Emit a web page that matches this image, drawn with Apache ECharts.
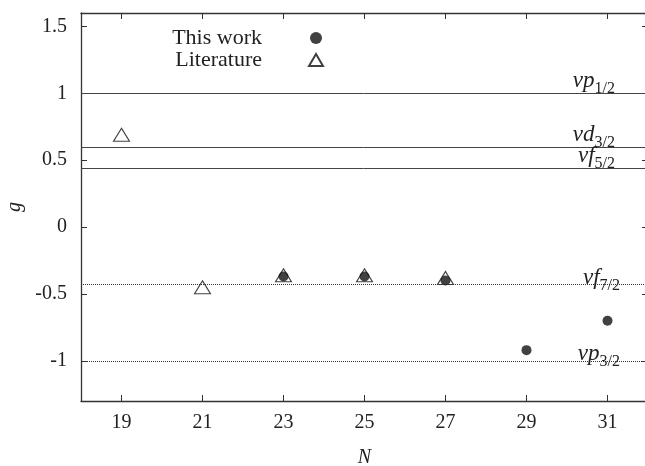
<!DOCTYPE html>
<html>
<head>
<meta charset="utf-8">
<script src="https://cdn.jsdelivr.net/npm/echarts@6/dist/echarts.min.js"></script>
<style>
  html, body { margin: 0; padding: 0; background: #fff; }
  #chart { width: 645px; height: 466px; }
</style>
</head>
<body>
<div id="chart"></div>
<script>
// measured g factors
const thisWorkN = [23, 25, 27, 29, 31]
const thisWorkG = [-0.37, -0.37, -0.40, -0.92, -0.70]
const litN = [19, 21, 23, 25, 27]
const litG = [0.69, -0.45, -0.36, -0.36, -0.38]

// single-particle reference levels
const levelOrb = ['p', 'd', 'f', 'f', 'p']
const levelJ = ['1/2', '3/2', '5/2', '7/2', '3/2']
const levelG = [1.0, 0.60, 0.44, -0.43, -1.0]

const xTicks = [19, 21, 23, 25, 27, 29, 31]
const yTicks = [-1, -0.5, 0, 0.5, 1, 1.5]

const serif = 'Liberation Serif'
const ink = '#222'

const chart = echarts.init(document.getElementById('chart'))

const levelLines = levelG.map((g, i) => ({
  yAxis: g,
  lineStyle: {
    type: g > 0 ? 'solid' : 'dotted',
    color: g > 0 ? '#444' : '#333',
    width: 1
  },
  label: {
    show: true,
    position: 'insideEndTop',
    distance: g > 0 ? -5 : -10,
    padding: [0, 38, 0, 0],
    formatter: '{n|ν}{o|' + levelOrb[i] + '}{s|' + levelJ[i] + '}',
    rich: {
      n: { fontFamily: serif, fontStyle: 'italic', fontSize: 23, color: ink, lineHeight: 26, padding: [0, 0, 8, 0] },
      o: { fontFamily: serif, fontStyle: 'italic', fontSize: 23, color: ink, lineHeight: 26, padding: [0, 0, 8, 0] },
      s: { fontFamily: serif, fontSize: 16, color: ink, lineHeight: 26, padding: [8, 0, 0, 0] }
    }
  }
}))

const axisCommon = {
  type: 'value',
  splitLine: { show: false },
  axisLine: { show: true, onZero: false, lineStyle: { color: '#333', width: 1.3 } },
  axisTick: { inside: true, length: 6, lineStyle: { color: '#333', width: 1 } }
}

chart.setOption({
  animation: false,
  grid: { left: 81, top: 13, width: 567, bottom: 65, outerBoundsMode: 'none' },
  legend: {
    orient: 'vertical',
    right: 316,
    top: 22,
    align: 'right',
    itemWidth: 14,
    itemHeight: 12,
    itemGap: 0,
    selectedMode: false,
    textStyle: { fontFamily: serif, fontSize: 22, color: ink, lineHeight: 21, padding: [0, 42, 0, 0] },
    data: [
      { name: 'This work', icon: 'circle' },
      { name: 'Literature', icon: 'triangle' }
    ]
  },
  xAxis: [
    Object.assign({}, axisCommon, {
      min: 18, max: 32,
      position: 'bottom',
      name: 'N',
      nameLocation: 'middle',
      nameGap: 47,
      nameTextStyle: { fontFamily: serif, fontStyle: 'italic', fontSize: 20, color: ink },
      axisTick: Object.assign({}, axisCommon.axisTick, { customValues: xTicks }),
      axisLabel: { customValues: xTicks, margin: 12, fontFamily: serif, fontSize: 20, color: ink }
    }),
    Object.assign({}, axisCommon, {
      min: 18, max: 32,
      position: 'top',
      axisTick: Object.assign({}, axisCommon.axisTick, { customValues: xTicks }),
      axisLabel: { show: false }
    })
  ],
  yAxis: [
    Object.assign({}, axisCommon, {
      min: -1.3, max: 1.6,
      position: 'left',
      name: 'g',
      nameLocation: 'middle',
      nameRotate: 90,
      nameGap: 56,
      nameTextStyle: { fontFamily: serif, fontStyle: 'italic', fontSize: 20, color: ink },
      axisTick: Object.assign({}, axisCommon.axisTick, { customValues: yTicks }),
      axisLabel: { customValues: yTicks, margin: 14, fontFamily: serif, fontSize: 20, color: ink }
    }),
    Object.assign({}, axisCommon, {
      min: -1.3, max: 1.6,
      position: 'right',
      axisTick: Object.assign({}, axisCommon.axisTick, { customValues: yTicks }),
      axisLabel: { show: false }
    })
  ],
  series: [
    {
      name: 'Literature',
      type: 'scatter',
      symbol: 'triangle',
      symbolSize: [16, 13],
      itemStyle: { color: 'rgba(255,255,255,0)', borderColor: '#111', borderWidth: 1.1 },
      data: litN.map((n, i) => [n, litG[i]]),
      markLine: {
        silent: true,
        symbol: 'none',
        animation: false,
        data: levelLines
      }
    },
    {
      name: 'This work',
      type: 'scatter',
      symbol: 'circle',
      symbolSize: 10,
      itemStyle: { color: '#111' },
      data: thisWorkN.map((n, i) => [n, thisWorkG[i]])
    }
  ]
})
</script>
</body>
</html>
